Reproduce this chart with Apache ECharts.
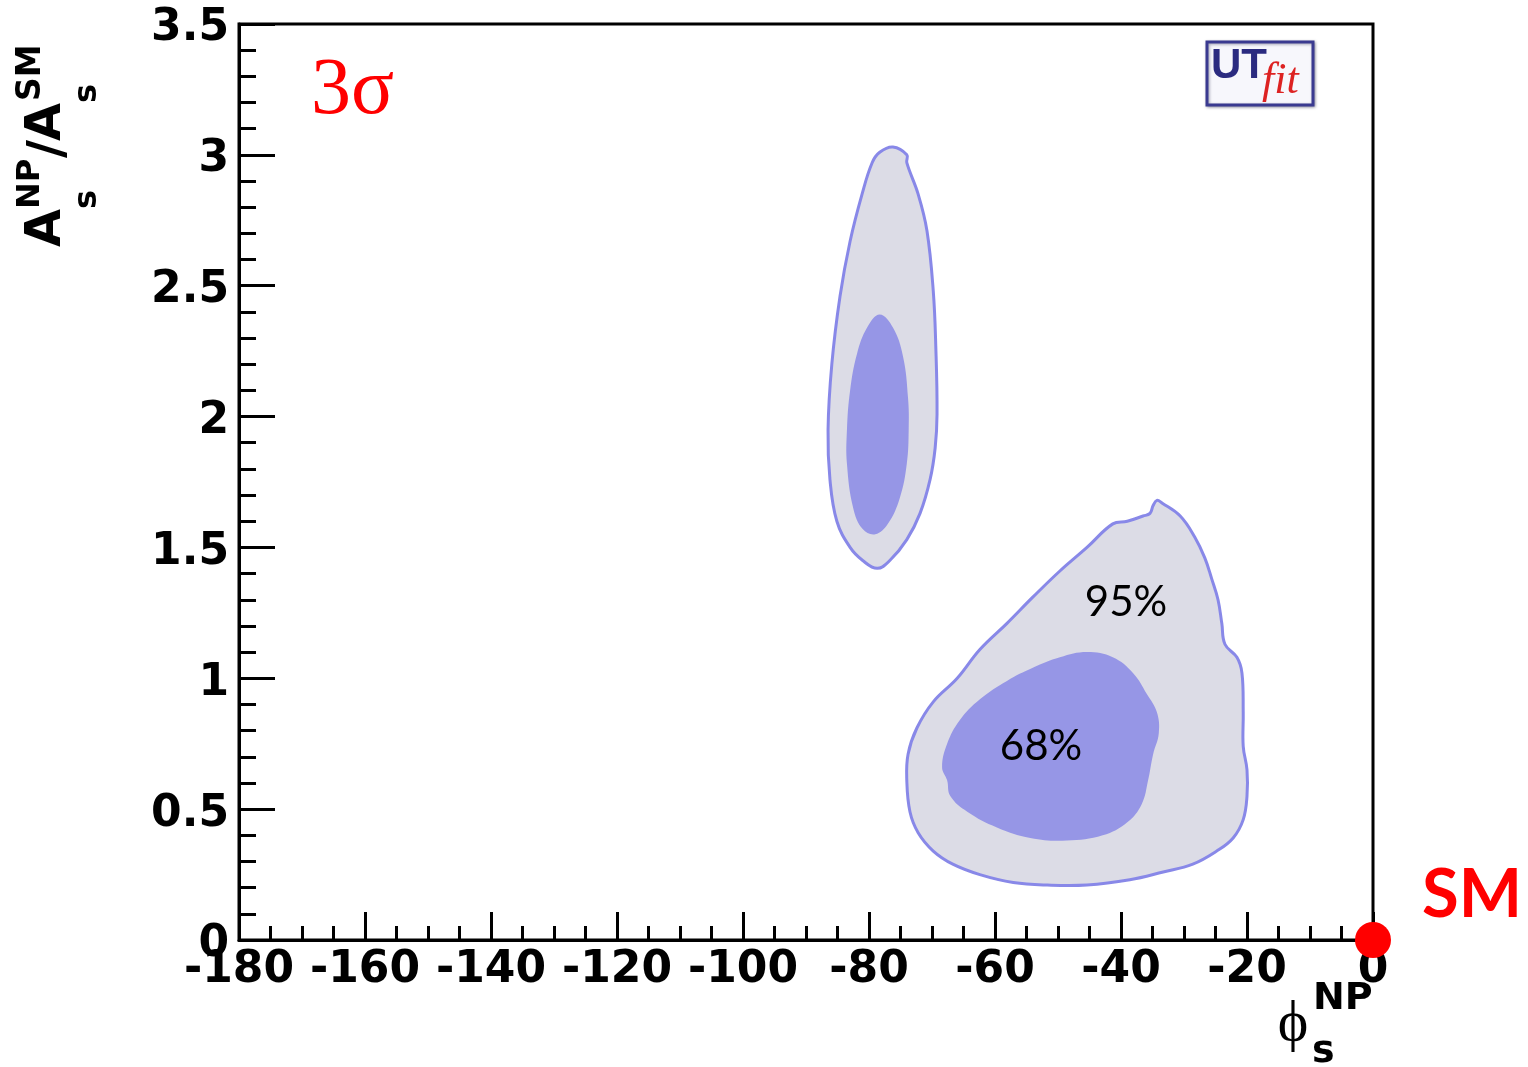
<!DOCTYPE html>
<html>
<head>
<meta charset="utf-8">
<title>A_s^NP/A_s^SM vs phi_s^NP</title>
<script src="https://cdn.jsdelivr.net/npm/echarts@6/dist/echarts.min.js"></script>
<style>
  html, body { margin: 0; padding: 0; background: #ffffff; }
  #chart { width: 1528px; height: 1067px; }
</style>
</head>
<body>
<div id="chart"></div>
<script>
// Probability regions in the (phi_s^NP [deg], A_s^NP/A_s^SM) plane.
// Each contour is a closed list of [phi, A] vertices.
const upper95 = [
  [-76.2, 3.03], [-74.0, 3.00], [-74.0, 2.97], [-72.2, 2.85], [-70.8, 2.71],
  [-69.8, 2.48], [-69.4, 2.27], [-69.2, 2.01], [-69.5, 1.88], [-70.3, 1.76],
  [-71.9, 1.63], [-74.0, 1.53], [-76.7, 1.45], [-78.7, 1.42], [-81.0, 1.45],
  [-83.0, 1.50], [-85.1, 1.60], [-86.2, 1.76], [-86.5, 1.95], [-85.9, 2.20],
  [-84.6, 2.46], [-83.0, 2.67], [-81.1, 2.85], [-79.5, 2.97], [-78.3, 3.01]
];
const upper68 = [
  [-78.3, 2.39], [-76.2, 2.34], [-74.6, 2.23], [-73.8, 2.07], [-73.7, 1.95],
  [-74.0, 1.82], [-75.1, 1.69], [-77.0, 1.59], [-79.0, 1.55], [-81.0, 1.57],
  [-82.5, 1.65], [-83.5, 1.82], [-83.5, 1.95], [-83.0, 2.10], [-81.9, 2.24],
  [-80.3, 2.34]
];
const lower95 = [
  [-34.3, 1.68], [-33.5, 1.67], [-30.6, 1.62], [-28.3, 1.54], [-26.7, 1.46],
  [-25.6, 1.38], [-24.6, 1.30], [-24.0, 1.21], [-23.5, 1.13], [-21.6, 1.08],
  [-20.8, 1.02], [-20.6, 0.87], [-20.6, 0.74], [-20.0, 0.65], [-20.0, 0.55],
  [-20.6, 0.46], [-22.2, 0.39], [-24.8, 0.34], [-28.6, 0.29], [-33.3, 0.26],
  [-38.6, 0.23], [-45.4, 0.21], [-51.7, 0.21], [-57.1, 0.22], [-62.4, 0.25],
  [-66.7, 0.29], [-69.8, 0.34], [-72.2, 0.41], [-73.5, 0.49], [-74.0, 0.61],
  [-73.8, 0.71], [-72.4, 0.81], [-69.8, 0.91], [-66.0, 1.00], [-62.4, 1.11],
  [-58.1, 1.21], [-54.0, 1.31], [-49.7, 1.41], [-45.4, 1.50], [-41.3, 1.59],
  [-39.0, 1.60], [-36.5, 1.62], [-35.4, 1.63], [-34.9, 1.66]
];
const lower68 = [
  [-45.4, 1.10], [-41.3, 1.08], [-38.1, 1.02], [-35.9, 0.94], [-34.3, 0.87],
  [-34.0, 0.79], [-34.9, 0.71], [-35.7, 0.61], [-36.7, 0.52], [-39.0, 0.45],
  [-42.9, 0.40], [-48.6, 0.38], [-54.4, 0.39], [-59.7, 0.43], [-64.4, 0.49],
  [-67.1, 0.55], [-67.6, 0.61], [-68.4, 0.66], [-67.6, 0.75], [-65.6, 0.84],
  [-62.4, 0.92], [-58.1, 0.99], [-54.0, 1.04], [-49.7, 1.08]
];

// Region captions placed at data coordinates
const regionLabelText = ['95%', '68%'];
const regionLabelPos = [[-39.2, 1.29], [-52.7, 0.74]];

// Standard Model point
const smPoint = [[0, 0]];

const xMin = -180, xMax = 0, xStep = 20;
const yMin = 0, yMax = 3.5, yStep = 0.5;

const COL_95_FILL = '#dcdce6';
const COL_68_FILL = '#9696e6';
const COL_EDGE = '#8888e8';

function contourSeries(name, pts, fill, stroke, z) {
  return {
    type: 'custom',
    name: name,
    coordinateSystem: 'cartesian2d',
    data: pts,
    z: z,
    silent: true,
    renderItem: function (params, api) {
      if (params.dataIndex !== 0) return;
      const points = pts.map(function (p) { return api.coord(p); });
      return {
        type: 'polygon',
        shape: { points: points, smooth: 0.4 },
        style: {
          fill: fill,
          stroke: stroke || null,
          lineWidth: stroke ? 3 : 0
        }
      };
    }
  };
}

const chart = echarts.init(document.getElementById('chart'), null, { renderer: 'canvas' });

const tickFont = '"DejaVu Sans", "Liberation Sans", Arial, sans-serif';

const option = {
  animation: false,
  backgroundColor: '#ffffff',
  grid: {
    left: 239, top: 24, width: 1134, height: 916,
    show: true, borderColor: '#000000', borderWidth: 3, backgroundColor: 'transparent'
  },
  xAxis: {
    type: 'value', min: xMin, max: xMax, interval: xStep,
    axisLine: { onZero: false, lineStyle: { color: '#000', width: 3 } },
    axisTick: { inside: true, length: 28, lineStyle: { color: '#000', width: 3 } },
    minorTick: { show: true, splitNumber: 4, length: 14, lineStyle: { color: '#000', width: 3 } },
    splitLine: { show: false },
    axisLabel: {
      color: '#000', fontFamily: tickFont, fontWeight: 'bold', fontSize: 44, margin: 9,
      showMinLabel: true, showMaxLabel: true
    }
  },
  yAxis: {
    type: 'value', min: yMin, max: yMax, interval: yStep,
    axisLine: { onZero: false, lineStyle: { color: '#000', width: 3 } },
    axisTick: { inside: true, length: 36, lineStyle: { color: '#000', width: 3 } },
    minorTick: { show: true, splitNumber: 5, length: 17, lineStyle: { color: '#000', width: 3 } },
    splitLine: { show: false },
    axisLabel: {
      margin: 10,
      showMinLabel: true, showMaxLabel: true,
      formatter: function (v) { return '{t|' + v + '}'; },
      rich: {
        t: {
          color: '#000', fontFamily: tickFont, fontWeight: 'bold', fontSize: 44,
          padding: [10, 0, 0, 0]
        }
      }
    }
  },
  series: [
    contourSeries('95% upper', upper95, COL_95_FILL, COL_EDGE, 2),
    contourSeries('68% upper', upper68, COL_68_FILL, null, 3),
    contourSeries('95% lower', lower95, COL_95_FILL, COL_EDGE, 2),
    contourSeries('68% lower', lower68, COL_68_FILL, null, 3),
    {
      type: 'custom',
      name: 'region labels',
      coordinateSystem: 'cartesian2d',
      data: regionLabelPos,
      z: 4,
      silent: true,
      renderItem: function (params, api) {
        const c = api.coord([api.value(0), api.value(1)]);
        return {
          type: 'text',
          x: c[0], y: c[1],
          style: {
            text: regionLabelText[params.dataIndex],
            font: '42px Lato, "Noto Sans", sans-serif',
            fill: '#000', align: 'center', verticalAlign: 'middle'
          }
        };
      }
    },
    {
      type: 'scatter',
      name: 'SM',
      data: smPoint,
      symbol: 'circle',
      symbolSize: 36,
      clip: false,
      z: 10,
      itemStyle: { color: '#ff0000', opacity: 1 },
      label: {
        show: true, formatter: 'SM', position: 'right', distance: 31, offset: [0, -45],
        color: '#ff0000', opacity: 1, fontFamily: 'Lato, "Open Sans", sans-serif', fontWeight: 'bold', fontSize: 67
      }
    }
  ],
  graphic: [
    // y-axis title: A_s^NP / A_s^SM, reading bottom to top
    {
      type: 'group', x: 47, y: 247, rotation: Math.PI / 2,
      children: [
        { type: 'text', x: 0, y: 0, style: { text: 'A', font: 'bold 49px ' + tickFont, fill: '#000', align: 'left', verticalAlign: 'middle' } },
        { type: 'text', x: 38, y: 41, style: { text: 's', font: 'bold 32px ' + tickFont, fill: '#000', align: 'left', verticalAlign: 'middle' } },
        { type: 'text', x: 38, y: -16, style: { text: 'NP', font: 'bold 32px ' + tickFont, fill: '#000', align: 'left', verticalAlign: 'middle' } },
        { type: 'text', x: 89, y: 2, style: { text: '/', font: 'bold 49px ' + tickFont, fill: '#000', align: 'left', verticalAlign: 'middle' } },
        { type: 'text', x: 106, y: 0, style: { text: 'A', font: 'bold 49px ' + tickFont, fill: '#000', align: 'left', verticalAlign: 'middle' } },
        { type: 'text', x: 144, y: 41, style: { text: 's', font: 'bold 32px ' + tickFont, fill: '#000', align: 'left', verticalAlign: 'middle' } },
        { type: 'text', x: 146, y: -16, style: { text: 'SM', font: 'bold 33px ' + tickFont, fill: '#000', align: 'left', verticalAlign: 'middle' } }
      ]
    },
    // x-axis title: phi_s^NP
    { type: 'text', x: 1293, y: 1025, style: { text: 'ϕ', font: '58px "Liberation Serif", "DejaVu Serif", serif', fill: '#000', align: 'center', verticalAlign: 'middle' } },
    { type: 'text', x: 1313, y: 999, style: { text: 'NP', font: 'bold 38px ' + tickFont, fill: '#000', align: 'left', verticalAlign: 'middle' } },
    { type: 'text', x: 1312, y: 1052, style: { text: 's', font: 'bold 38px ' + tickFont, fill: '#000', align: 'left', verticalAlign: 'middle' } },
    // confidence level tag
    { type: 'text', x: 311, y: 92, style: { text: '3σ', font: '80px "Liberation Serif", "DejaVu Serif", serif', fill: '#ff0000', align: 'left', verticalAlign: 'middle' } },
    // UTfit logo
    {
      type: 'group', x: 1207, y: 42,
      children: [
        { type: 'rect', shape: { x: 0, y: 0, width: 106, height: 63 }, style: { fill: '#f7f7fc', stroke: '#3a3a90', lineWidth: 3, shadowBlur: 3, shadowColor: 'rgba(0,0,40,0.35)', shadowOffsetX: 1, shadowOffsetY: 1 } },
        { type: 'text', x: 4, y: 24, style: { text: 'UT', font: 'bold 42px "Liberation Sans", Arial, sans-serif', fill: '#2b2b80', align: 'left', verticalAlign: 'middle' } },
        { type: 'text', x: 55, y: 39, style: { text: 'fit', font: 'italic 44px "Liberation Serif", serif', fill: '#dd2222', align: 'left', verticalAlign: 'middle' } }
      ]
    }
  ]
};

chart.setOption(option);
</script>
</body>
</html>
